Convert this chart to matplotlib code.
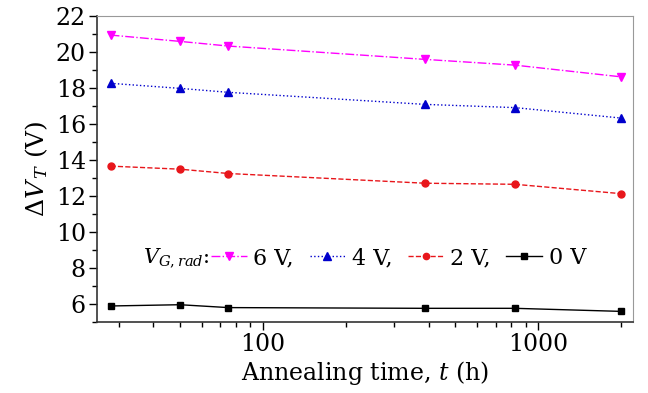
import matplotlib
matplotlib.use("Agg")
import matplotlib.pyplot as plt
from matplotlib.ticker import LogLocator, NullFormatter, FixedLocator, MultipleLocator

plt.rcParams['font.family'] = ['DejaVu Serif']
plt.rcParams['mathtext.fontset'] = 'dejavuserif'

t = [28, 50, 75, 388, 824, 2000]
v6 = [20.94, 20.59, 20.33, 19.59, 19.27, 18.62]
v4 = [18.26, 17.98, 17.76, 17.09, 16.91, 16.33]
v2 = [13.66, 13.49, 13.25, 12.71, 12.65, 12.13]
v0 = [5.89, 5.96, 5.80, 5.76, 5.76, 5.59]
labels = ['6 V,', '4 V,', '2 V,', '0 V']

fig = plt.figure(figsize=(6.48, 3.93), dpi=100)
ax = fig.add_axes([97/648, 1-322/393, (633-97)/648, (322-16)/393])

l6, = ax.plot(t, v6, color='#ff00ff', ls='-.', lw=1, marker='v', ms=6, label=labels[0])
l4, = ax.plot(t, v4, color='#0000cc', ls=':', lw=1, marker='^', ms=6, label=labels[1])
l2, = ax.plot(t, v2, color='#e8161b', ls='--', lw=1, marker='o', ms=5, label=labels[2])
l0, = ax.plot(t, v0, color='black', ls='-', lw=1, marker='s', ms=4.5, label=labels[3])

ax.set_xscale('log')
ax.set_xlim(25, 2210)
ax.set_ylim(5, 22)
ax.xaxis.set_major_locator(FixedLocator([100, 1000]))
ax.xaxis.set_minor_locator(LogLocator(base=10, subs=range(2, 10)))
ax.xaxis.set_minor_formatter(NullFormatter())
ax.set_xticklabels(['100', '1000'])
ax.yaxis.set_major_locator(MultipleLocator(2))
ax.yaxis.set_minor_locator(MultipleLocator(1))
ax.tick_params(which='major', direction='out', length=6, width=1, labelsize=17, pad=2)
ax.tick_params(which='minor', direction='out', length=3.5, width=1)
for s in ['top', 'right']:
    ax.spines[s].set_color('#999999')
for s in ['left', 'bottom']:
    ax.spines[s].set_color('#333333')
    ax.spines[s].set_linewidth(1.2)

ax.set_xlabel('Annealing time, $t$ (h)', fontsize=17, labelpad=2)
ax.set_ylabel(r'$\Delta V_{\,T}$ (V)', fontsize=18, labelpad=4)

ax.text(0.085, 0.209, r'$V_{G,rad}$:', transform=ax.transAxes, fontsize=15, va='center', ha='left')
ax.legend(handles=[l6, l4, l2, l0], ncol=4, frameon=False, fontsize=16,
          loc='center left', bbox_to_anchor=(0.213, 0.209), handlelength=1.6,
          handletextpad=0.3, columnspacing=0.7, borderaxespad=0, borderpad=0,
          markerscale=0.9)

fig.savefig('out.png', dpi=100)
